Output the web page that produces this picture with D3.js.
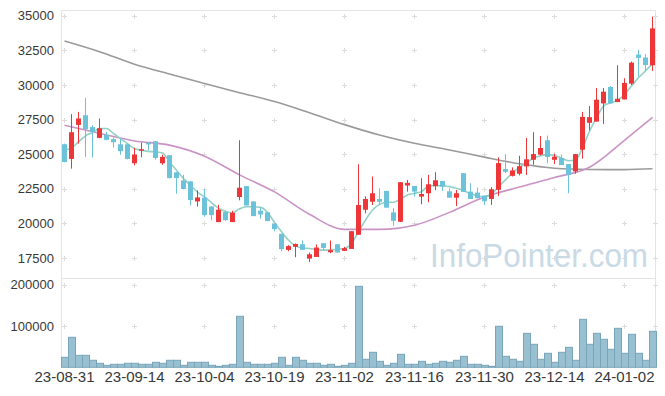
<!DOCTYPE html>
<html>
<head>
<meta charset="utf-8">
<script src="https://cdn.jsdelivr.net/npm/d3@7"></script>
<style>
  body { margin: 0; background: #fff; }
  svg { display: block; }
</style>
</head>
<body>
<div id="chart"></div>
<script>
const dates = ["23-08-31","23-09-01","23-09-04","23-09-05","23-09-06","23-09-07","23-09-08","23-09-11","23-09-12","23-09-13",
  "23-09-14","23-09-15","23-09-18","23-09-19","23-09-20","23-09-21","23-09-22","23-09-25","23-09-26","23-09-27",
  "23-10-04","23-10-05","23-10-06","23-10-10","23-10-11","23-10-12","23-10-13","23-10-16","23-10-17","23-10-18",
  "23-10-19","23-10-20","23-10-23","23-10-24","23-10-25","23-10-26","23-10-27","23-10-30","23-10-31","23-11-01",
  "23-11-02","23-11-03","23-11-06","23-11-07","23-11-08","23-11-09","23-11-10","23-11-13","23-11-14","23-11-15",
  "23-11-16","23-11-17","23-11-20","23-11-21","23-11-22","23-11-23","23-11-24","23-11-27","23-11-28","23-11-29",
  "23-11-30","23-12-01","23-12-04","23-12-05","23-12-06","23-12-07","23-12-08","23-12-11","23-12-12","23-12-13",
  "23-12-14","23-12-15","23-12-18","23-12-19","23-12-20","23-12-21","23-12-22","23-12-26","23-12-27","23-12-28",
  "24-01-02","24-01-03","24-01-04","24-01-05","24-01-08"];

const openVals = [25710,24650,27110,27810,26950,26170,26390,26080,25710,25710,
  24340,25250,25810,25930,24340,24920,23680,23100,23030,21580,
  21850,21220,20090,20810,20090,21900,22690,21580,20910,20790,
  19970,19240,18080,18300,18490,17450,17570,18560,17910,18490,
  18010,18150,19170,20980,21560,21760,22340,20790,20110,22730,
  22700,21930,22170,22680,23060,22310,21850,23620,22290,22220,
  22000,21760,22420,23920,23430,23580,24110,24590,24960,26000,
  24590,24720,24280,23750,25320,27260,27350,28660,29850,28760,
  28950,30090,32190,31980,31420];
const highVals = [25760,27890,28050,29070,27090,27570,26610,26200,26120,25760,
  25450,25830,25830,25950,24960,24930,23700,23510,23050,22380,
  22450,21230,21340,20930,20910,26000,22700,21590,21170,20800,
  19970,19240,18420,18540,18760,17890,18470,18560,18760,18490,
  18300,19430,24270,21950,23380,22530,22340,21100,22970,23140,
  22700,23260,23500,23690,23060,22530,22410,23620,22900,22580,
  22000,22610,24760,25000,24040,24880,26170,26580,26310,26340,
  25030,24960,24280,25000,28050,28470,29770,29770,29920,31420,
  30480,31690,32530,32220,34930];
const lowVals = [24400,23950,25760,24800,24750,26150,26000,25470,24960,24620,
  24190,24770,25280,24600,24220,23230,22140,22450,21290,21220,
  20470,20210,20080,20160,20080,21660,21270,20520,20330,20160,
  19430,17980,17980,17550,18080,17210,17570,18030,17840,17880,
  18000,18150,19170,20720,21320,21320,21130,19820,20110,22290,
  21930,21370,21520,22390,22340,21850,21250,22270,21760,21810,
  21330,21330,21980,23630,23380,23460,23500,24230,24910,24330,
  24280,24210,22170,23580,24670,26720,27350,27180,28660,28760,
  28950,29990,30600,31010,31010];
const closeVals = [24430,26580,27570,26800,26610,26870,26030,25860,25210,24650,
  24960,25350,25710,24720,24800,23270,23270,22480,21680,21870,
  20590,20590,20980,20230,20760,22570,21290,20520,20640,20160,
  19580,18130,18350,18510,18080,17760,18250,18220,18060,17890,
  18200,19430,21320,21760,22170,21560,21130,20180,22970,22920,
  22290,22120,22820,23110,22650,21850,22170,22270,21760,21810,
  21600,22460,24350,23720,23820,24130,24620,25000,25440,24790,
  24810,24210,23500,25000,27690,27670,28930,29510,28660,29000,
  30140,31610,31950,31440,34080];
const volumeVals = [24200,72600,29000,29000,17000,9700,4800,7300,7300,9700,
  9700,7300,7300,12100,9700,17000,17000,4800,12100,12100,
  12100,4800,2400,4800,7300,123500,12100,7300,7300,7300,
  9700,24200,4800,24200,17000,9700,9700,4800,7300,2400,
  4800,9700,196000,19400,36300,14500,4800,9700,31500,7300,
  7300,14500,7300,9700,14500,12100,17000,26600,7300,7300,
  4800,2400,99300,26600,19400,14500,82300,55700,19400,33900,
  12100,36300,48400,17000,116200,55700,82300,67800,43600,94400,
  33900,79900,33900,17000,87100];

// short moving average, read per candle
const ma5Vals = [25280,25450,25880,26320,26560,26850,26850,26490,26120,25760,
  25400,25280,25200,25160,25080,24430,23830,23230,22740,22260,
  21900,21490,21100,20860,20760,21050,21200,21200,21150,20790,
  20060,19390,18780,18370,18220,18180,18130,18060,18080,18130,
  18180,18540,19390,20230,20960,21370,21520,21520,21760,22050,
  22170,22290,22700,22730,22700,22650,22530,22360,22140,21970,
  21920,22100,22660,23140,23630,24040,24350,24720,24880,24960,
  24880,24720,24520,24590,25440,26650,27620,28470,28710,28880,
  29310,29920,30520,31010,31540];
// longer averages, read every 5 candles
const maIdx = [0,5,10,15,20,25,30,35,40,45,50,55,60,65,70,75,80,84];
const ma20Vals = [27090,26500,25950,25650,24850,23500,22270,20650,19560,19560,19860,20790,21900,22620,23310,24050,26000,27650];
const ma120Vals = [33170,32400,31500,30790,30100,29440,28800,27990,27130,26380,25780,25300,24780,24300,23980,23890,23880,23940];

const priceTicks = [17500,20000,22500,25000,27500,30000,32500,35000];
const volumeTicks = [100000,200000];
const dateTicks = ["23-08-31","23-09-14","23-10-04","23-10-19","23-11-02","23-11-16","23-11-30","23-12-14","24-01-02"];

const W = 665, H = 396;
const plotLeft = 61, plotRight = 656, plotTop = 10, split = 278, plotBottom = 367.3;

const data = dates.map((d, i) => ({
  date: d, open: openVals[i], high: highVals[i], low: lowVals[i],
  close: closeVals[i], volume: volumeVals[i], ma5: ma5Vals[i]
}));

const svg = d3.select("#chart").append("svg")
  .attr("width", W)
  .attr("height", H);

const x = d3.scaleBand().domain(dates).range([plotLeft, plotRight]).padding(0);
const cx = d => x(d) + x.bandwidth() / 2;

const yPrice = d3.scaleLinear().domain([16048, 35412]).range([split, plotTop]);
const yVol = d3.scaleLinear().domain([0, 216220]).range([plotBottom, split]);

const red = "#ee3538", blue = "#6cc2d9";

// frame
svg.append("g").attr("stroke", "#e4e4e4").attr("stroke-width", 1)
  .selectAll("line")
  .data([[plotLeft, plotTop, plotRight - 1, plotTop], [plotLeft, plotTop, plotLeft, plotBottom],
         [plotRight - 1, plotTop, plotRight - 1, plotBottom], [plotLeft, split, plotRight - 1, split]])
  .enter().append("line")
  .attr("x1", d => Math.floor(d[0]) + 0.5)
  .attr("y1", d => Math.floor(d[1]) + 0.5)
  .attr("x2", d => Math.floor(d[2]) + 0.5)
  .attr("y2", d => Math.floor(d[3]) + 0.5);

// "+" grid markers
const gridX = dateTicks.map(cx).concat([plotRight - 1]);
const marks = [];
gridX.forEach(gx => {
  priceTicks.forEach(t => marks.push([gx, yPrice(t)]));
  volumeTicks.forEach(t => marks.push([gx, yVol(t)]));
});
svg.append("g").attr("stroke", "#dcdcdc").attr("stroke-width", 1)
  .selectAll("path")
  .data(marks)
  .enter().append("path")
  .attr("d", d => {
    const px = Math.floor(d[0]) + 0.5, py = Math.round(d[1]) + 0.5;
    return "M" + (px - 2.5) + "," + py + "H" + (px + 2.5) + "M" + px + "," + (py - 2.5) + "V" + (py + 2.5);
  });

// watermark
svg.append("text")
  .attr("x", 430)
  .attr("y", 267)
  .attr("font-family", "'Liberation Sans', Arial, sans-serif")
  .attr("font-size", 34)
  .attr("textLength", 218)
  .attr("lengthAdjust", "spacingAndGlyphs")
  .attr("fill", "#c9dae5")
  .text("InfoPointer.com");

// moving averages
const lineSparse = vals => d3.line()
  .x((d, i) => cx(dates[maIdx[i]]))
  .y(d => yPrice(d))
  .curve(d3.curveMonotoneX)(vals);

svg.append("path")
  .attr("d", lineSparse(ma120Vals))
  .attr("fill", "none").attr("stroke", "#9a9a9a").attr("stroke-width", 1.6);

svg.append("path")
  .attr("d", lineSparse(ma20Vals))
  .attr("fill", "none").attr("stroke", "#c993c6").attr("stroke-width", 1.6);

svg.append("path")
  .attr("d", d3.line().x(d => cx(d.date)).y(d => yPrice(d.ma5)).curve(d3.curveMonotoneX)(data))
  .attr("fill", "none").attr("stroke", "#93d0c7").attr("stroke-width", 1.6);

// candles
const candles = svg.selectAll(".candle")
  .data(data)
  .enter().append("g")
  .attr("class", "candle");

candles.append("line")
  .attr("x1", d => Math.floor(cx(d.date)) + 0.5)
  .attr("x2", d => Math.floor(cx(d.date)) + 0.5)
  .attr("y1", d => yPrice(d.high))
  .attr("y2", d => yPrice(d.low))
  .attr("stroke", d => d.close >= d.open ? red : blue)
  .attr("stroke-width", 1);

candles.append("rect")
  .attr("x", d => Math.floor(cx(d.date)) - 2)
  .attr("width", 5)
  .attr("y", d => yPrice(Math.max(d.open, d.close)))
  .attr("height", d => Math.max(1.5, Math.abs(yPrice(d.open) - yPrice(d.close))))
  .attr("fill", d => d.close >= d.open ? red : blue);

// volume
svg.selectAll(".vol")
  .data(data)
  .enter().append("rect")
  .attr("class", "vol")
  .attr("x", d => x(d.date) + 0.5)
  .attr("width", x.bandwidth())
  .attr("y", d => yVol(d.volume))
  .attr("height", d => yVol(0) - yVol(d.volume))
  .attr("fill", "#99c0d0")
  .attr("stroke", "#78a5ba")
  .attr("stroke-width", 1);

// axes
const font = "'Liberation Sans', Arial, sans-serif";

const yAxisP = svg.append("g")
  .attr("transform", "translate(" + plotLeft + ",0)")
  .call(d3.axisLeft(yPrice).tickValues(priceTicks).tickSize(0).tickPadding(7).tickFormat(d3.format("d")));
const yAxisV = svg.append("g")
  .attr("transform", "translate(" + plotLeft + ",0)")
  .call(d3.axisLeft(yVol).tickValues(volumeTicks).tickSize(0).tickPadding(7).tickFormat(d3.format("d")));
const xAxis = svg.append("g")
  .attr("transform", "translate(0," + plotBottom + ")")
  .call(d3.axisBottom(x).tickValues(dateTicks).tickSize(0).tickPadding(4.5));

[yAxisP, yAxisV, xAxis].forEach(g => {
  g.select(".domain").remove();
  g.attr("font-family", font).attr("font-size", 13);
  g.selectAll("text").attr("fill", "#383838");
});
xAxis.attr("font-size", 15);
</script>
</body>
</html>
